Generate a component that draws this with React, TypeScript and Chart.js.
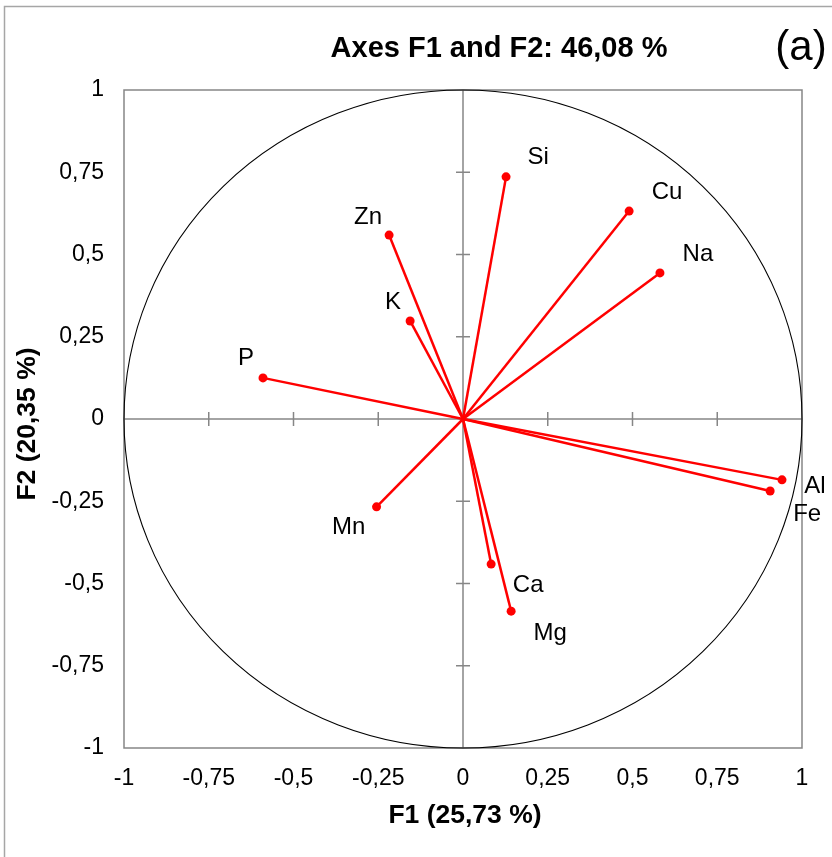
import React, { useEffect, useRef } from "react";
import { Chart, registerables } from "chart.js";

Chart.register(...registerables);

// ---- data ----
const variables = ["Si", "Cu", "Na", "Zn", "K", "P", "Mn", "Ca", "Mg", "Al", "Fe"];
const f1Values = [0.127, 0.49, 0.581, -0.218, -0.156, -0.59, -0.255, 0.083, 0.142, 0.941, 0.906];
const f2Values = [0.736, 0.632, 0.444, 0.559, 0.298, 0.125, -0.267, -0.441, -0.584, -0.185, -0.219];
const tickValues = [-1, -0.75, -0.5, -0.25, 0, 0.25, 0.5, 0.75, 1];
const chartTitle = "Axes F1 and F2: 46,08 %";
const panelLabel = "(a)";
const xAxisTitle = "F1 (25,73 %)";
const yAxisTitle = "F2 (20,35 %)";

// ---- layout (pixel offsets of the variable labels from their points) ----
const labelOffsets: [number, number][] = [
  [32, -19], [38, -19], [38, -19], [-21, -18], [-17, -19], [-17, -20],
  [-28, 21], [37, 21], [39, 22], [33, 7], [37, 23],
];

const FONT = "'Liberation Sans', Arial, sans-serif";
const RED = "#ff0000";
const GRAY = "#868686";

const fmt = (v: number) => String(Number(v)).replace(".", ",");

const decorPlugin = {
  id: "decor",
  beforeDraw(chart: any) {
    const ctx = chart.ctx;
    ctx.save();
    ctx.strokeStyle = "#a6a6a6";
    ctx.lineWidth = 1.5;
    ctx.strokeRect(4.5, 6.5, 1000, 1000);
    ctx.restore();
  },
  beforeDatasetsDraw(chart: any) {
    const ctx = chart.ctx;
    const { left, right, top, bottom } = chart.chartArea;
    const xs = chart.scales.x;
    const ys = chart.scales.y;
    const cx = xs.getPixelForValue(0);
    const cy = ys.getPixelForValue(0);
    ctx.save();
    ctx.strokeStyle = GRAY;
    ctx.lineWidth = 1.5;
    ctx.strokeRect(left, top, right - left, bottom - top);
    ctx.beginPath();
    ctx.moveTo(left, cy);
    ctx.lineTo(right, cy);
    ctx.moveTo(cx, top);
    ctx.lineTo(cx, bottom);
    tickValues.forEach((v) => {
      if (v === 0 || Math.abs(v) === 1) return;
      const px = xs.getPixelForValue(v);
      ctx.moveTo(px, cy - 7);
      ctx.lineTo(px, cy + 7);
      const py = ys.getPixelForValue(v);
      ctx.moveTo(cx - 7, py);
      ctx.lineTo(cx + 7, py);
    });
    ctx.stroke();
    const rx = xs.getPixelForValue(1) - cx;
    const ry = cy - ys.getPixelForValue(1);
    ctx.beginPath();
    ctx.ellipse(cx, cy, rx, ry, 0, 0, Math.PI * 2);
    ctx.strokeStyle = "#000000";
    ctx.lineWidth = 1.1;
    ctx.stroke();
    ctx.restore();
  },
  afterDraw(chart: any) {
    const ctx = chart.ctx;
    const xs = chart.scales.x;
    const ys = chart.scales.y;
    ctx.save();
    ctx.fillStyle = "#000000";
    ctx.textAlign = "center";
    ctx.textBaseline = "middle";
    ctx.font = `24px ${FONT}`;
    variables.forEach((name, i) => {
      const px = xs.getPixelForValue(f1Values[i]) + labelOffsets[i][0];
      const py = ys.getPixelForValue(f2Values[i]) + labelOffsets[i][1];
      ctx.fillText(name, px, py);
    });
    ctx.font = `bold 29px ${FONT}`;
    ctx.fillText(chartTitle, 499, 49);
    ctx.font = `42px ${FONT}`;
    ctx.fillText(panelLabel, 801, 48);
    ctx.font = `bold 26.5px ${FONT}`;
    ctx.fillText(xAxisTitle, 465, 816);
    ctx.translate(28, 424);
    ctx.rotate(-Math.PI / 2);
    ctx.fillText(yAxisTitle, 0, 0);
    ctx.restore();
  },
};

export default function App() {
  const ref = useRef<HTMLCanvasElement | null>(null);

  useEffect(() => {
    if (!ref.current) return;
    Chart.defaults.font.family = FONT;
    const datasets = variables.map((name, i) => ({
      label: name,
      data: [
        { x: 0, y: 0 },
        { x: f1Values[i], y: f2Values[i] },
      ],
      showLine: true,
      borderColor: RED,
      borderWidth: 2.5,
      backgroundColor: RED,
      pointBackgroundColor: RED,
      pointBorderWidth: 0,
      pointRadius: (c: any) => (c.dataIndex === 0 ? 0 : 4.5),
    }));
    const scaleBase = (padding: number) => ({
      type: "linear" as const,
      min: -1,
      max: 1,
      grid: { display: false, drawTicks: false },
      border: { display: false },
      afterBuildTicks: (s: any) => {
        s.ticks = tickValues.map((v) => ({ value: v }));
      },
      ticks: {
        padding,
        color: "#000000",
        font: { size: 23, family: FONT },
        callback: (v: any) => fmt(v),
        autoSkip: false,
        maxRotation: 0,
        minRotation: 0,
      },
    });
    const chart = new Chart(ref.current, {
      type: "scatter",
      data: { datasets },
      options: {
        animation: false,
        responsive: false,
        maintainAspectRatio: false,
        layout: { padding: { top: 90, right: 30, left: 0, bottom: 0 } },
        plugins: { legend: { display: false }, tooltip: { enabled: false }, title: { display: false } },
        scales: {
          x: {
            ...scaleBase(17),
            afterFit: (s: any) => {
              s.height = 109;
            },
          },
          y: {
            ...scaleBase(20),
            afterFit: (s: any) => {
              s.width = 124;
            },
          },
        },
      } as any,
      plugins: [decorPlugin],
    });
    return () => chart.destroy();
  }, []);

  return (
    <div style={{ position: "fixed", left: 0, top: 0, width: 832, height: 857, background: "#ffffff" }}>
      <canvas ref={ref} width={832} height={857} style={{ display: "block", width: 832, height: 857 }} />
    </div>
  );
}
